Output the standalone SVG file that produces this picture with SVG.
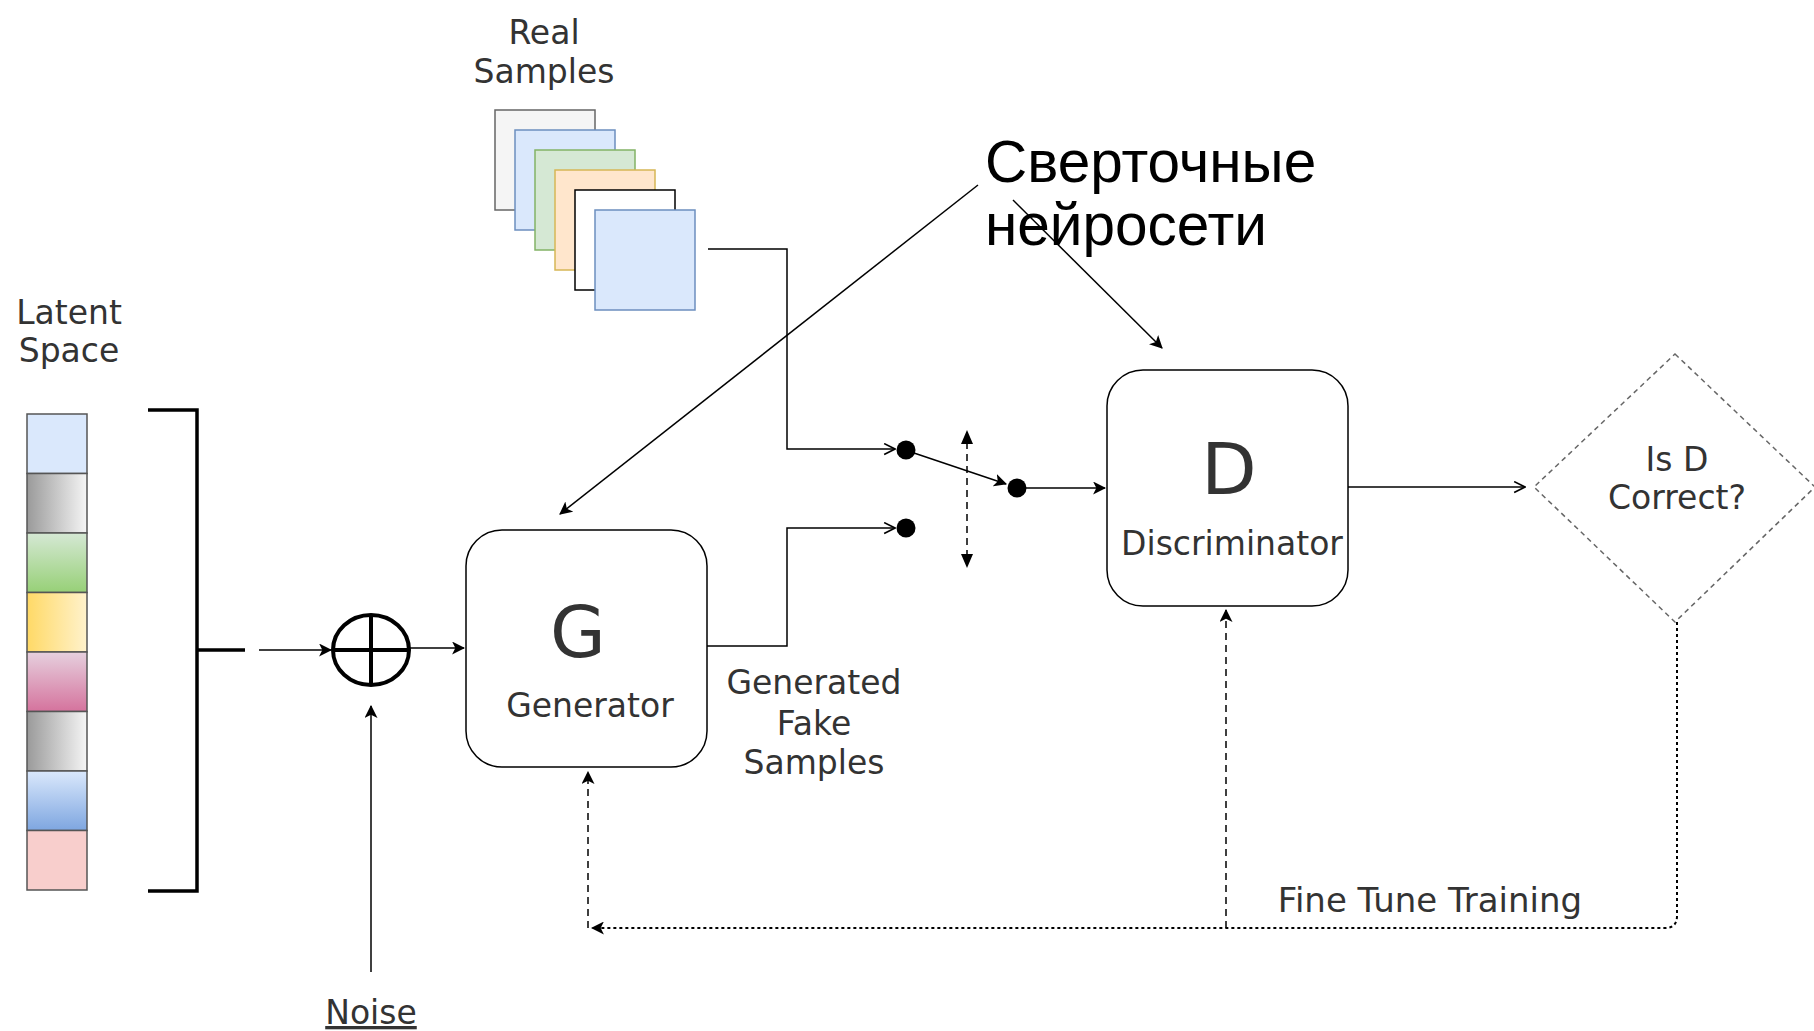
<svg xmlns="http://www.w3.org/2000/svg" width="1814" height="1031" viewBox="0 0 1814 1031">
<style>
.t{font-family:"DejaVu Sans",Verdana,sans-serif;fill:#333;font-size:33px;text-anchor:middle}
.big{font-size:72px}
.ru{font-family:"Liberation Sans",Arial,sans-serif;fill:#000;font-size:58.5px}
.ln{fill:none;stroke:#000;stroke-width:1.5}
.box{fill:#fff;stroke:#000;stroke-width:1.5}
.dash{fill:none;stroke:#000;stroke-width:1.5;stroke-dasharray:7 5}
.dot{fill:none;stroke:#000;stroke-width:2;stroke-dasharray:3 3}
.cell{stroke:#555;stroke-width:1.5}
.dotn{fill:#000}
</style>
<defs>
<marker id="cl" viewBox="0 0 12 12" refX="11" refY="6" markerWidth="13" markerHeight="13" markerUnits="userSpaceOnUse" orient="auto">
<path d="M0,0 L12,6 L0,12 L3,6 z" fill="#000"/>
</marker>
<marker id="op" viewBox="0 0 12 12" refX="11" refY="6" markerWidth="13" markerHeight="13" markerUnits="userSpaceOnUse" orient="auto">
<path d="M1,1 L11,6 L1,11" fill="none" stroke="#000" stroke-width="1.5"/>
</marker>
<linearGradient id="gH" x1="0" y1="0" x2="1" y2="0"><stop offset="0" stop-color="#9a9a9a"/><stop offset="1" stop-color="#f5f5f5"/></linearGradient>
<linearGradient id="gGreen" x1="0" y1="0" x2="0" y2="1"><stop offset="0" stop-color="#d5e8d4"/><stop offset="1" stop-color="#97d077"/></linearGradient>
<linearGradient id="gYel" x1="0" y1="0" x2="1" y2="0"><stop offset="0" stop-color="#ffd966"/><stop offset="1" stop-color="#fff2cc"/></linearGradient>
<linearGradient id="gPink" x1="0" y1="0" x2="0" y2="1"><stop offset="0" stop-color="#e6d0de"/><stop offset="1" stop-color="#d5739d"/></linearGradient>
<linearGradient id="gBlue" x1="0" y1="0" x2="0" y2="1"><stop offset="0" stop-color="#dae8fc"/><stop offset="1" stop-color="#7ea6e0"/></linearGradient>
</defs>
<rect width="1814" height="1031" fill="#fff"/>

<g id="real-samples">
<text class="t" x="544" y="44">Real</text>
<text class="t" x="544" y="83">Samples</text>
<rect x="495" y="110" width="100" height="100" fill="#f5f5f5" stroke="#666" stroke-width="1.5"/>
<rect x="515" y="130" width="100" height="100" fill="#dae8fc" stroke="#6c8ebf" stroke-width="1.5"/>
<rect x="535" y="150" width="100" height="100" fill="#d5e8d4" stroke="#82b366" stroke-width="1.5"/>
<rect x="555" y="170" width="100" height="100" fill="#ffe6cc" stroke="#d6b656" stroke-width="1.5"/>
<rect x="575" y="190" width="100" height="100" fill="#fff" stroke="#000" stroke-width="1.5"/>
<rect x="595" y="210" width="100" height="100" fill="#dae8fc" stroke="#6c8ebf" stroke-width="1.5"/>
</g>

<g id="latent-space">
<text class="t" x="69" y="324">Latent</text>
<text class="t" x="69" y="362">Space</text>
<rect class="cell" x="27" y="414" width="60" height="59.5" fill="#dae8fc" stroke="#6c8ebf"/>
<rect class="cell" x="27" y="473.5" width="60" height="59.5" fill="url(#gH)"/>
<rect class="cell" x="27" y="533" width="60" height="59.5" fill="url(#gGreen)"/>
<rect class="cell" x="27" y="592.5" width="60" height="59.5" fill="url(#gYel)"/>
<rect class="cell" x="27" y="652" width="60" height="59.5" fill="url(#gPink)"/>
<rect class="cell" x="27" y="711.5" width="60" height="59.5" fill="url(#gH)"/>
<rect class="cell" x="27" y="771" width="60" height="59.5" fill="url(#gBlue)"/>
<rect class="cell" x="27" y="830.5" width="60" height="59.5" fill="#f8cecc"/>
</g>

<g id="bracket">
<path d="M148,410 H197 V891 H148 M197,650 H245" fill="none" stroke="#000" stroke-width="3.5"/>
</g>

<g id="sum">
<ellipse cx="371" cy="650" rx="38" ry="35" fill="#fff" stroke="#000" stroke-width="4"/>
<path d="M333,650 H409 M371,615 V685" stroke="#000" stroke-width="4"/>
</g>

<g id="noise">
<text class="t" x="371" y="1024" text-decoration="underline">Noise</text>
</g>

<g id="generator">
<rect class="box" x="466" y="530" width="241" height="237" rx="36"/>
<text class="t big" x="578" y="657">G</text>
<text class="t" x="590" y="717">Generator</text>
</g>

<g id="fake-label">
<text class="t" x="814" y="694">Generated</text>
<text class="t" x="814" y="735">Fake</text>
<text class="t" x="814" y="774">Samples</text>
</g>

<g id="switch">
<circle class="dotn" cx="906" cy="450" r="9.5"/>
<circle class="dotn" cx="906" cy="528" r="9.5"/>
<circle class="dotn" cx="1017" cy="488" r="9.5"/>
</g>

<g id="discriminator">
<rect class="box" x="1107" y="370" width="241" height="236" rx="36"/>
<text class="t big" x="1229" y="494">D</text>
<text class="t" x="1232" y="555">Discriminator</text>
</g>

<g id="decision">
<path d="M1675,354 L1815,487 L1675,622 L1534,487 Z" fill="none" stroke="#666" stroke-width="1.5" stroke-dasharray="5 4"/>
<text class="t" x="1677" y="471">Is D</text>
<text class="t" x="1677" y="509">Correct?</text>
</g>

<g id="fine-tune-label">
<text class="t" x="1430" y="912" style="font-size:34px">Fine Tune Training</text>
</g>

<g id="annotation">
<text class="ru" x="985" y="182">Сверточные</text>
<text class="ru" x="985" y="245">нейросети</text>
</g>

<g id="connectors">
<path class="ln" d="M259,650 H331" stroke-width="2" marker-end="url(#cl)"/>
<path class="ln" d="M409,648 H464" stroke-width="2" marker-end="url(#cl)"/>
<path class="ln" d="M371,972 V706" stroke-width="2" marker-end="url(#cl)"/>
<path class="ln" d="M708,249 H787 V449 H895" marker-end="url(#op)"/>
<path class="ln" d="M707,646 H787 V528 H895" marker-end="url(#op)"/>
<path class="ln" d="M914,453 L1006,484" stroke-width="2" marker-end="url(#cl)"/>
<path class="ln" d="M1026,488 H1105" marker-end="url(#cl)"/>
<path class="dash" d="M967,442 V556" stroke-width="2" stroke-dasharray="6 4"/>
<path d="M967,430 L961,444 L973,444 Z M967,568 L961,554 L973,554 Z" fill="#000"/>
<path class="ln" d="M1348,487 H1525" marker-end="url(#op)"/>
<path class="dot" d="M1677,622 V916 Q1677,928 1665,928 H592" marker-end="url(#cl)"/>
<path class="dash" d="M588,928 V772" marker-end="url(#cl)"/>
<path class="dash" d="M1226,928 V610" marker-end="url(#cl)"/>
<path class="ln" d="M978,185 L560,514" marker-end="url(#cl)"/>
<path class="ln" d="M1013,200 L1162,348" marker-end="url(#cl)"/>
</g>
</svg>
